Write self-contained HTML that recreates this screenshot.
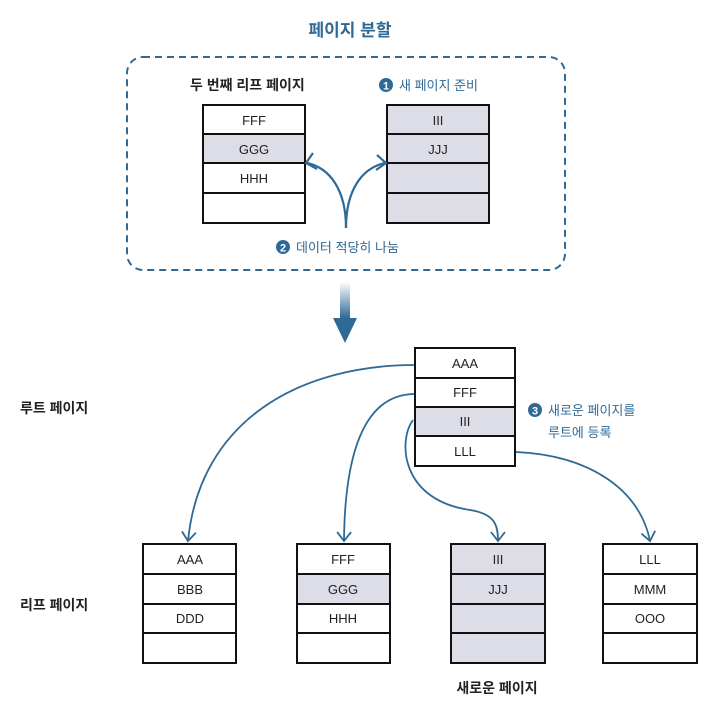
<!DOCTYPE html>
<html><head><meta charset="utf-8"><style>
body{margin:0;background:#fff;width:725px;height:718px;overflow:hidden}
svg text{font-family:"Liberation Sans","Noto Sans CJK KR",sans-serif}
</style></head><body>
<svg width="725" height="718" viewBox="0 0 725 718" xmlns="http://www.w3.org/2000/svg">
<defs>
<marker id="a" markerWidth="16" markerHeight="16" refX="13" refY="8" orient="auto" markerUnits="userSpaceOnUse">
<path d="M4,1 L13,8 L4,15" fill="none" stroke="#2f6a96" stroke-width="1.8"/></marker>
<linearGradient id="g" x1="0" y1="0" x2="0" y2="1"><stop offset="0" stop-color="#fff"/><stop offset="1" stop-color="#2f6a96"/></linearGradient>
</defs>
<text x="350" y="36" text-anchor="middle" font-size="17" font-weight="bold" fill="#2f6a96">페이지 분할</text>
<rect x="127" y="57" width="438" height="213" rx="16" fill="none" stroke="#2f6a96" stroke-width="2" stroke-dasharray="7,5"/>
<text x="190" y="90" font-size="14" font-weight="bold" fill="#222">두 번째 리프 페이지</text>
<circle cx="386" cy="85" r="7" fill="#2f6a96"/><text x="386" y="89.5" text-anchor="middle" font-size="11" font-weight="bold" fill="#fff">1</text>
<text x="399" y="90" font-size="13" fill="#2f6a96">새 페이지 준비</text>
<circle cx="283" cy="247" r="7" fill="#2f6a96"/><text x="283" y="251.5" text-anchor="middle" font-size="11" font-weight="bold" fill="#fff">2</text>
<text x="296" y="252" font-size="13" fill="#2f6a96">데이터 적당히 나눔</text>
<g stroke="#111" stroke-width="2">
<rect x="203" y="105" width="102" height="118" fill="#fff"/>
<rect x="204" y="134" width="100" height="29" fill="#dcdde6" stroke="none"/>
<line x1="203" y1="134" x2="305" y2="134"/><line x1="203" y1="163" x2="305" y2="163"/><line x1="203" y1="193" x2="305" y2="193"/>
<rect x="387" y="105" width="102" height="118" fill="#dcdde6"/>
<line x1="387" y1="134" x2="489" y2="134"/><line x1="387" y1="163" x2="489" y2="163"/><line x1="387" y1="193" x2="489" y2="193"/>
</g>
<g font-size="13" fill="#222" text-anchor="middle">
<text x="254" y="125">FFF</text><text x="254" y="154">GGG</text><text x="254" y="183">HHH</text>
<text x="438" y="125">III</text><text x="438" y="154">JJJ</text>
</g>
<g fill="none" stroke="#2f6a96" stroke-width="2.2">
<path d="M346,228 C346,190 330,168 307,163"/><path d="M346,228 C346,190 362,168 385,163"/>
<path d="M313,153 L306,163 L317,169"/><path d="M377,155 L386,163 L376,170"/>
</g>
<rect x="340" y="282" width="10" height="36" fill="url(#g)"/>
<path d="M333,318 L357,318 L345,343 Z" fill="#2f6a96"/>
<text x="20" y="413" font-size="14" font-weight="bold" fill="#222">루트 페이지</text>
<text x="20" y="610" font-size="14" font-weight="bold" fill="#222">리프 페이지</text>
<text x="497" y="693" font-size="14" font-weight="bold" fill="#222" text-anchor="middle">새로운 페이지</text>
<circle cx="535" cy="410" r="7" fill="#2f6a96"/><text x="535" y="414.5" text-anchor="middle" font-size="11" font-weight="bold" fill="#fff">3</text>
<text x="548" y="415" font-size="13" fill="#2f6a96">새로운 페이지를</text>
<text x="548" y="437" font-size="13" fill="#2f6a96">루트에 등록</text>
<g fill="none" stroke="#2f6a96" stroke-width="1.8">
<path d="M415,365 C300,365 200,420 188,541" marker-end="url(#a)"/>
<path d="M415,394 C370,394 345,440 344,541" marker-end="url(#a)"/>
<path d="M413,420 C398,440 400,500 470,510 C495,514 498,525 498,541" marker-end="url(#a)"/>
<path d="M515,452 C590,455 640,490 650,541" marker-end="url(#a)"/>
</g>
<g stroke="#111" stroke-width="2">
<rect x="415" y="348" width="100" height="118" fill="#fff"/>
<rect x="416" y="407" width="98" height="29" fill="#dcdde6" stroke="none"/>
<line x1="415" y1="378" x2="515" y2="378"/><line x1="415" y1="407" x2="515" y2="407"/><line x1="415" y1="436" x2="515" y2="436"/>
<rect x="143" y="544" width="93" height="119" fill="#fff"/>
<rect x="297" y="544" width="93" height="119" fill="#fff"/>
<rect x="298" y="574" width="91" height="30" fill="#dcdde6" stroke="none"/>
<rect x="451" y="544" width="94" height="119" fill="#dcdde6"/>
<rect x="603" y="544" width="94" height="119" fill="#fff"/>
<path d="M143,574H236M143,604H236M143,633H236M297,574H390M297,604H390M297,633H390M451,574H545M451,604H545M451,633H545M603,574H697M603,604H697M603,633H697"/>
</g>
<g font-size="13" fill="#222" text-anchor="middle">
<text x="465" y="368">AAA</text><text x="465" y="397">FFF</text><text x="465" y="426">III</text><text x="465" y="456">LLL</text>
<text x="190" y="564">AAA</text><text x="190" y="594">BBB</text><text x="190" y="623">DDD</text>
<text x="343" y="564">FFF</text><text x="343" y="594">GGG</text><text x="343" y="623">HHH</text>
<text x="498" y="564">III</text><text x="498" y="594">JJJ</text>
<text x="650" y="564">LLL</text><text x="650" y="594">MMM</text><text x="650" y="623">OOO</text>
</g>
</svg>
</body></html>
